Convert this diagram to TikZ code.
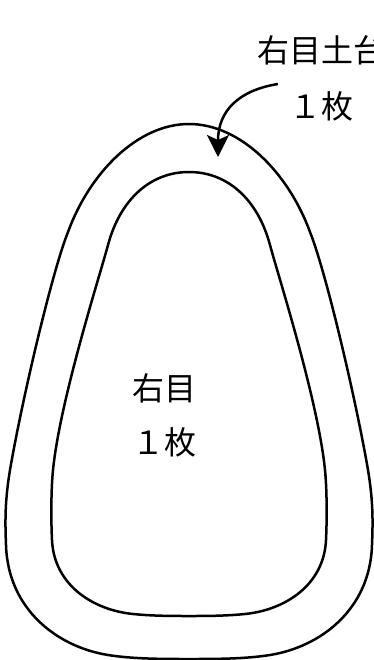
\documentclass[tikz,border=0pt]{standalone}
\usepackage{fontspec}
\newfontfamily\cjk{Noto Sans CJK JP}
\usetikzlibrary{arrows.meta}
\begin{document}
\begin{tikzpicture}[x=1pt,y=-1pt,
  outline/.style={line width=2.5pt, line join=round},
  lbl/.style={font=\cjk\fontsize{32}{38}\selectfont, inner sep=0pt, anchor=center},
  pointer/.style={line width=2.5pt, -{Stealth[length=22pt,width=22pt,inset=5pt]}}]
\useasboundingbox (0,0) rectangle (374,660);
% outer outline
\draw[outline] (189,124)
  .. controls (240,124) and (288,172) .. (310,232)
  .. controls (326,272) and (356,400) .. (368,470)
  .. controls (373,500) and (373,520) .. (372,545)
  .. controls (370,610) and (320,647) .. (270,655)
  .. controls (245,659) and (215,659) .. (189,659)
  .. controls (163,659) and (133,659) .. (108,655)
  .. controls (58,647) and (8,610) .. (6,545)
  .. controls (5,520) and (5,500) .. (10,470)
  .. controls (22,400) and (52,272) .. (68,232)
  .. controls (90,172) and (138,124) .. cycle;
% inner outline
\draw[outline] (189,172)
  .. controls (228,172) and (258,200) .. (270,245)
  .. controls (278,275) and (318,400) .. (325,470)
  .. controls (327,490) and (327,520) .. (326,540)
  .. controls (324,585) and (285,610) .. (245,614)
  .. controls (225,616) and (205,616) .. (189,616)
  .. controls (173,616) and (153,616) .. (133,614)
  .. controls (93,610) and (54,585) .. (52,540)
  .. controls (51,520) and (51,490) .. (53,470)
  .. controls (60,400) and (100,275) .. (108,245)
  .. controls (120,200) and (150,172) .. cycle;
\node[lbl] (t1) at (321,50.5) {右目土台};
\node[lbl] (t2) at (321,106) {１枚};
\coordinate (astart) at (278,84);
\coordinate (aend) at (218,157);
\draw[pointer] (astart) .. controls (240,90) and (218,110) .. (aend);
\node[lbl] (c1) at (164,388) {右目};
\node[lbl] (c2) at (164,442) {１枚};
\end{tikzpicture}
\end{document}
